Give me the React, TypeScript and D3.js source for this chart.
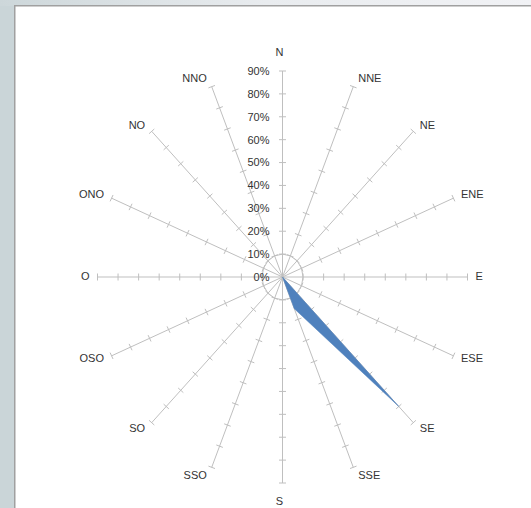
import React from "react";
import * as d3 from "d3";

const directions = ["N", "NNE", "NE", "ENE", "E", "ESE", "SE", "SSE", "S", "SSO", "SO", "OSO", "O", "ONO", "NO", "NNO"];
const values = [0, 0, 0, 0, 0, 0, 0.8, 0.15, 0, 0, 0, 0, 0, 0, 0, 0];
const tickValues = [0, 0.1, 0.2, 0.3, 0.4, 0.5, 0.6, 0.7, 0.8, 0.9];
const gridLevels = [0.1];

const W = 531;
const H = 508;
const cx = 282.5;
const cy = 277;
const rx = 185;
const ry = 206;

export default function App() {
  const r = d3.scaleLinear().domain([0, 0.9]).range([0, 1]);
  const angle = d3
    .scaleLinear()
    .domain([0, directions.length])
    .range([0, 2 * Math.PI]);
  const pt = (i: number, v: number): [number, number] => {
    const a = angle(i);
    return [cx + rx * r(v) * Math.sin(a), cy - ry * r(v) * Math.cos(a)];
  };
  const line = d3
    .line<number>()
    .x((v, i) => pt(i, v)[0])
    .y((v, i) => pt(i, v)[1])
    .curve(d3.curveLinearClosed);

  const font = "'Liberation Sans', Arial, sans-serif";
  const axisColor = "#bfbfbf";

  return (
    <svg width={W} height={H} style={{ position: "absolute", left: 0, top: 0 }}>
      <defs>
        <linearGradient id="topg" x1="0" x2="1" y1="0" y2="0">
          <stop offset="0" stopColor="#cdd7da" />
          <stop offset="0.5" stopColor="#e9ecef" />
          <stop offset="1" stopColor="#f1f2f5" />
        </linearGradient>
      </defs>
      <rect x={0} y={0} width={W} height={H} fill="#cad5d8" />
      <rect x={0} y={0} width={W} height={6} fill="url(#topg)" />
      <rect x={14.75} y={5.75} width={W} height={H} fill="#ffffff" stroke="#a0a0a0" strokeWidth={1.5} />

      {/* grid polygon at 10% */}
      {gridLevels.map((g) => (
        <path
          key={g}
          d={line(directions.map(() => g)) || ""}
          fill="none"
          stroke={axisColor}
          strokeWidth={1}
        />
      ))}

      {/* axes with ticks */}
      {directions.map((d, i) => {
        const a = angle(i);
        const [ex, ey] = pt(i, 0.9);
        // perpendicular direction (screen)
        const ux = Math.sin(a) * rx;
        const uy = -Math.cos(a) * ry;
        const len = Math.hypot(ux, uy);
        const px = -uy / len;
        const py = ux / len;
        return (
          <g key={d}>
            <line x1={cx} y1={cy} x2={ex} y2={ey} stroke={axisColor} strokeWidth={1} />
            {tickValues.slice(1).map((t) => {
              const [tx, ty] = pt(i, t);
              return (
                <line
                  key={t}
                  x1={tx - px * 3.5}
                  y1={ty - py * 3.5}
                  x2={tx + px * 3.5}
                  y2={ty + py * 3.5}
                  stroke={axisColor}
                  strokeWidth={1}
                />
              );
            })}
          </g>
        );
      })}

      {/* data area */}
      <path d={line(values) || ""} fill="#4f81bd" stroke="#4f81bd" strokeWidth={0.5} />

      {/* radial tick labels */}
      {tickValues.map((t) => {
        const [, ty] = pt(0, t);
        return (
          <text
            key={t}
            x={cx - 13}
            y={ty + 1}
            textAnchor="end"
            dominantBaseline="middle"
            fontFamily={font}
            fontSize={11}
            fill="#333"
          >
            {d3.format(".0%")(t)}
          </text>
        );
      })}

      {/* direction labels */}
      {directions.map((d, i) => {
        const a = angle(i);
        const s = Math.sin(a);
        const c = Math.cos(a);
        const [ex, ey] = pt(i, 0.9);
        const middle = Math.abs(s) < 0.1;
        const anchor = middle ? "middle" : s > 0 ? "start" : "end";
        const x = middle ? ex - 3 : ex + Math.sign(s) * (3 + 5 * Math.abs(s));
        const y = ey - c * (middle ? 18.5 : 8.5);
        return (
          <text
            key={d}
            x={x}
            y={y + 0.5}
            textAnchor={anchor}
            dominantBaseline="middle"
            fontFamily={font}
            fontSize={11}
            fill="#333"
          >
            {d}
          </text>
        );
      })}
    </svg>
  );
}
